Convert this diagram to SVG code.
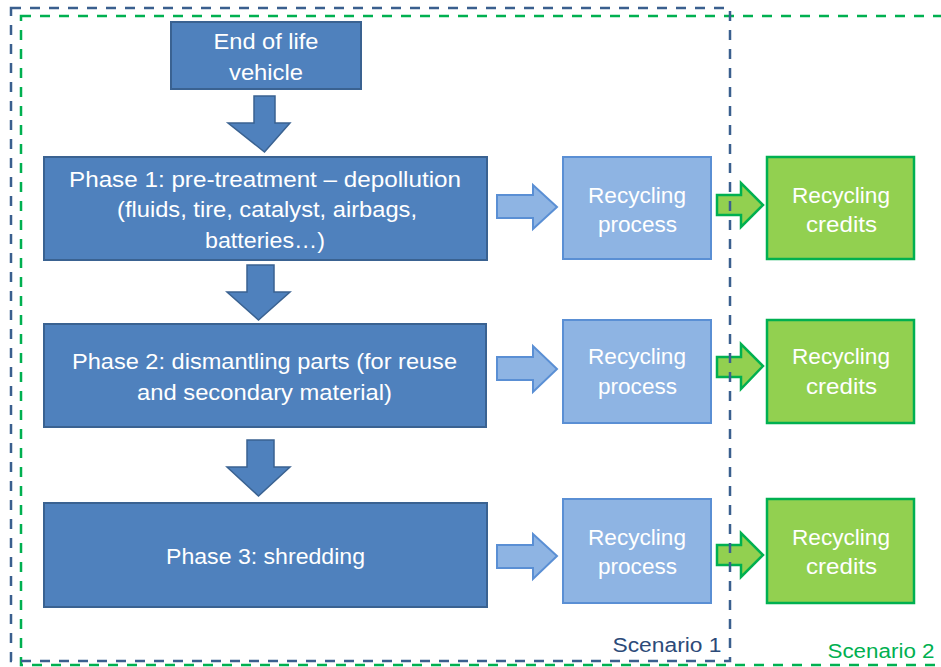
<svg xmlns="http://www.w3.org/2000/svg" width="941" height="667" viewBox="0 0 941 667">
<style>
text{font-family:"Liberation Sans",Arial,sans-serif;fill:#fff;font-size:22px;text-anchor:middle}
.dark{fill:#4F81BD;stroke:#3A6291;stroke-width:2}
.light{fill:#8EB4E3;stroke:#5A8FD4;stroke-width:2}
.green{fill:#92D050;stroke:#00B050;stroke-width:2.5}
.down{fill:#4F81BD;stroke:#3A6291;stroke-width:1.5}
.rl{fill:#8EB4E3;stroke:#5A8FD4;stroke-width:2}
.rg{fill:#92D050;stroke:#00B050;stroke-width:2.5}
.sc{fill:none;stroke-width:2.5;stroke-dasharray:10 9}
</style>
<g id="connectors">
<polygon class="down" points="254,96 275,96 275,123 290,123 264.5,152 228,123 254,123"/>
<polygon class="down" points="247,265 274,265 274,292 290,292 258.5,320 227,292 247,292"/>
<polygon class="down" points="247,440 274,440 274,467 290,467 258.5,496 227,467 247,467"/>
<polygon class="rl" points="497,195 533,195 533,185 557,207 533,229 533,218 497,218"/>
<polygon class="rl" points="497,357 533,357 533,346 557,369 533,392 533,380 497,380"/>
<polygon class="rl" points="497,545 533,545 533,534 557,556 533,579 533,568 497,568"/>
<polygon class="rg" points="717,195 741,195 741,183 763,205 741,227 741,215 717,215"/>
<polygon class="rg" points="717,357 741,357 741,344 763,366 741,389 741,377 717,377"/>
<polygon class="rg" points="717,545 741,545 741,533 763,555 741,577 741,565 717,565"/>
</g>
<g id="end-of-life">
<rect class="dark" x="171" y="22" width="190" height="67"/>
<text x="266" y="49" textLength="105" lengthAdjust="spacingAndGlyphs">End of life</text>
<text x="266" y="80" textLength="74" lengthAdjust="spacingAndGlyphs">vehicle</text>
</g>
<g id="phase1">
<rect class="dark" x="44" y="157" width="443" height="103"/>
<text x="265" y="187" textLength="392" lengthAdjust="spacingAndGlyphs">Phase 1: pre-treatment – depollution</text>
<text x="267" y="217" textLength="300" lengthAdjust="spacingAndGlyphs">(fluids, tire, catalyst, airbags,</text>
<text x="265" y="248" textLength="120" lengthAdjust="spacingAndGlyphs">batteries…)</text>
</g>
<g id="phase2">
<rect class="dark" x="44" y="324" width="442" height="103"/>
<text x="264.5" y="369" textLength="385" lengthAdjust="spacingAndGlyphs">Phase 2: dismantling parts (for reuse</text>
<text x="264.5" y="400" textLength="255" lengthAdjust="spacingAndGlyphs">and secondary material)</text>
</g>
<g id="phase3">
<rect class="dark" x="44" y="503" width="443" height="104"/>
<text x="265.5" y="564" textLength="199" lengthAdjust="spacingAndGlyphs">Phase 3: shredding</text>
</g>
<g id="recycling-process-1">
<rect class="light" x="563" y="157" width="148" height="102"/>
<text x="637" y="203" textLength="98" lengthAdjust="spacingAndGlyphs">Recycling</text>
<text x="637.5" y="232" textLength="79" lengthAdjust="spacingAndGlyphs">process</text>
</g>
<g id="recycling-process-2">
<rect class="light" x="563" y="320" width="148" height="103"/>
<text x="637" y="364" textLength="98" lengthAdjust="spacingAndGlyphs">Recycling</text>
<text x="637.5" y="394" textLength="79" lengthAdjust="spacingAndGlyphs">process</text>
</g>
<g id="recycling-process-3">
<rect class="light" x="563" y="499" width="148" height="104"/>
<text x="637" y="545" textLength="98" lengthAdjust="spacingAndGlyphs">Recycling</text>
<text x="637.5" y="574" textLength="79" lengthAdjust="spacingAndGlyphs">process</text>
</g>
<g id="recycling-credits-1">
<rect class="green" x="767" y="157" width="147" height="102"/>
<text x="841" y="203" textLength="98" lengthAdjust="spacingAndGlyphs">Recycling</text>
<text x="841.5" y="232" textLength="71" lengthAdjust="spacingAndGlyphs">credits</text>
</g>
<g id="recycling-credits-2">
<rect class="green" x="767" y="320" width="147" height="103"/>
<text x="841" y="364" textLength="98" lengthAdjust="spacingAndGlyphs">Recycling</text>
<text x="841.5" y="394" textLength="71" lengthAdjust="spacingAndGlyphs">credits</text>
</g>
<g id="recycling-credits-3">
<rect class="green" x="767" y="499" width="147" height="104"/>
<text x="841" y="545" textLength="98" lengthAdjust="spacingAndGlyphs">Recycling</text>
<text x="841.5" y="574" textLength="71" lengthAdjust="spacingAndGlyphs">credits</text>
</g>
<g id="scenario2">
<rect class="sc" x="21" y="16" width="940" height="649" stroke="#00B050"/>
<text x="881" y="658" style="fill:#00B050;font-size:20px" textLength="107" lengthAdjust="spacingAndGlyphs">Scenario 2</text>
</g>
<g id="scenario1">
<rect class="sc" x="11" y="8" width="719" height="653" stroke="#3A5F8E"/>
<text x="667" y="652" style="fill:#2C4A78;font-size:20px" textLength="109" lengthAdjust="spacingAndGlyphs">Scenario 1</text>
</g>
</svg>
